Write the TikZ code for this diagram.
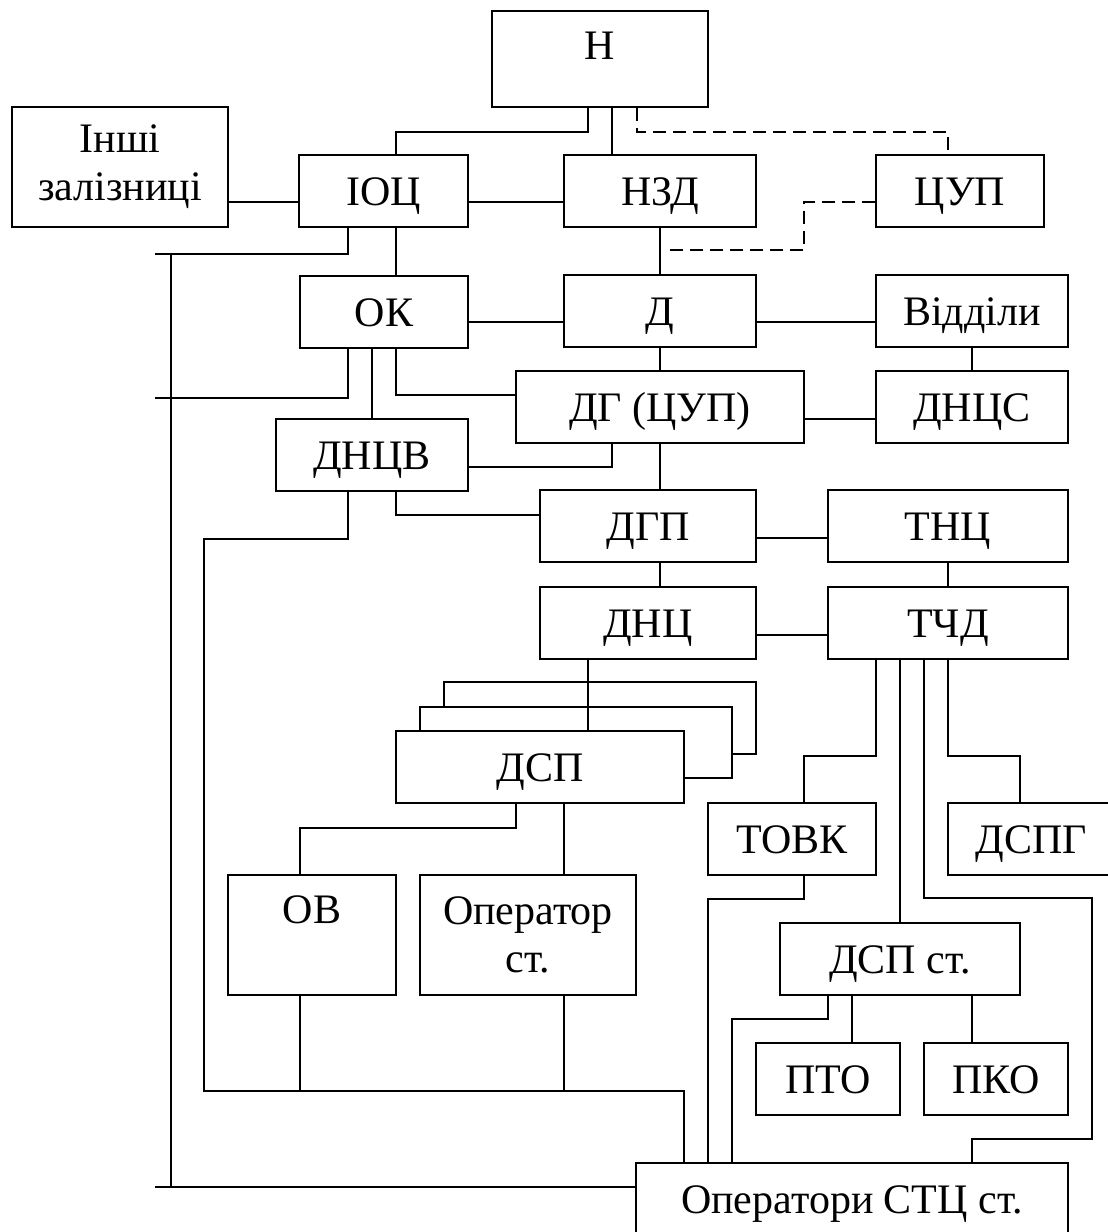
\documentclass[tikz,border=0pt]{standalone}
\usepackage{fontspec}
\setmainfont{Liberation Serif}
\begin{document}
\begin{tikzpicture}[x=1pt,y=-1pt,font=\fontsize{42pt}{48pt}\selectfont,
  box/.style={draw, line width=1.9pt, inner sep=0pt, text height=32pt, text depth=4pt, fill=white},
  mbox/.style={draw, line width=1.9pt, inner sep=0pt, align=center, fill=white},
  ln/.style={line width=1.9pt},
  dln/.style={line width=1.9pt, dash pattern=on 13pt off 7pt}]
\useasboundingbox (0,0) rectangle (1108,1232);
\clip (0,0) rectangle (1108,1232);
% boxes
\node[box, minimum width=216pt, minimum height=96pt, text height=30pt, text depth=30pt] (N) at (600,59) {Н};
\node[mbox, minimum width=216pt, minimum height=120pt] (Inshi) at (120,167) {Інші\\залізниці};
\node[box, minimum width=169pt, minimum height=72pt] (IOC) at (383.5,191) {ІОЦ};
\node[box, minimum width=192pt, minimum height=72pt] (NZD) at (660,191) {НЗД};
\node[box, minimum width=168pt, minimum height=72pt] (CUP) at (960,191) {ЦУП};
\node[box, minimum width=168pt, minimum height=72pt] (OK) at (384,312) {ОК};
\node[box, minimum width=192pt, minimum height=72pt] (D) at (660,311) {Д};
\node[box, minimum width=192pt, minimum height=72pt] (Vid) at (972,311) {Відділи};
\node[box, minimum width=288pt, minimum height=72pt] (DG) at (660,407) {ДГ (ЦУП)};
\node[box, minimum width=192pt, minimum height=72pt] (DNCS) at (972,407) {ДНЦС};
\node[box, minimum width=192pt, minimum height=72pt] (DNCV) at (372,455) {ДНЦВ};
\node[box, minimum width=216pt, minimum height=72pt] (DGP) at (648,526) {ДГП};
\node[box, minimum width=240pt, minimum height=72pt] (TNC) at (948,526) {ТНЦ};
\node[box, minimum width=216pt, minimum height=72pt] (DNC) at (648,623) {ДНЦ};
\node[box, minimum width=240pt, minimum height=72pt] (TCD) at (948,623) {ТЧД};
\draw[ln, fill=white] (444,682) rectangle (756,754);
\draw[ln, fill=white] (420,707) rectangle (732,778);
\node[box, minimum width=288pt, minimum height=72pt] (DSP) at (540,767) {ДСП};
\node[box, minimum width=168pt, minimum height=72pt] (TOVK) at (792,839) {ТОВК};
\node[box, minimum width=166pt, minimum height=72pt] (DSPG) at (1031,839) {ДСПГ};
\node[box, minimum width=168pt, minimum height=120pt, text height=30pt, text depth=54pt] (OB) at (312,935) {ОВ};
\node[mbox, minimum width=216pt, minimum height=120pt] (Oper) at (528,935) {Оператор\\ст.};
\node[box, minimum width=240pt, minimum height=72pt] (DSPst) at (900,959) {ДСП ст.};
\node[box, minimum width=144pt, minimum height=72pt] (PTO) at (828,1079) {ПТО};
\node[box, minimum width=144pt, minimum height=72pt] (PKO) at (996,1079) {ПКО};
\node[box, minimum width=432pt, minimum height=72pt] (OPS) at (852,1199) {Оператори СТЦ ст.};
% free ends and corners
\coordinate (L1) at (155,254);
\coordinate (L2) at (155,398);
\coordinate (L3) at (155,1187);
\coordinate (vtop) at (171,254);
\coordinate (vbot) at (171,1187);
\coordinate (dc) at (804,250);
\coordinate (dend) at (666,250);
\coordinate (c1) at (204,539);
\coordinate (c2) at (204,1091);
\coordinate (r1) at (1092,898);
\coordinate (r2) at (1092,1139);
% connectors
\draw[ln] ([xshift=-12pt]N.south) -- ++(0,24) -| ([xshift=12.5pt]IOC.north);
\draw[ln] ([xshift=12pt]N.south) -- ([xshift=12pt]N.south |- NZD.north);
\draw[dln] ([xshift=37pt]N.south) -- ++(0,24) -| ([xshift=-12pt]CUP.north);
\draw[dln] ([yshift=-11pt]CUP.west) -| (dc) -- (dend);
\draw[ln] ([yshift=-35pt]Inshi.east) -- ([yshift=-11pt]IOC.west);
\draw[ln] ([yshift=-11pt]IOC.east) -- ([yshift=-11pt]NZD.west);
\draw[ln] ([xshift=-35.5pt]IOC.south) |- (L1);
\draw[ln] ([xshift=12.5pt]IOC.south) -- ([xshift=12.5pt]IOC.south |- OK.north);
\draw[ln] (NZD.south) -- (D.north);
\draw[ln] ([yshift=-10pt]OK.east) -- ([yshift=-10pt]OK.east -| D.west);
\draw[ln] ([yshift=-11pt]D.east) -- ([yshift=-11pt]D.east -| Vid.west);
\draw[ln] (D.south) -- (DG.north);
\draw[ln] (Vid.south) -- (DNCS.north);
\draw[ln] ([yshift=-12pt]DG.east) -- ([yshift=-12pt]DG.east -| DNCS.west);
\draw[ln] ([xshift=-36pt]OK.south) |- (L2);
\draw[ln] ([xshift=-12pt]OK.south) -- (DNCV.north);
\draw[ln] ([xshift=12pt]OK.south) |- ([yshift=12pt]DG.west);
\draw[ln] ([yshift=-12pt]DNCV.east) -| ([xshift=-48pt]DG.south);
\draw[ln] (DG.south) -- (DG.south |- DGP.north);
\draw[ln] ([xshift=24pt]DNCV.south) |- ([yshift=11pt]DGP.west);
\draw[ln] ([xshift=-24pt]DNCV.south) |- (c1) -- (c2) -| ([xshift=-168pt]OPS.north);
\draw[ln] ([yshift=-12pt]DGP.east) -- ([yshift=-12pt]DGP.east -| TNC.west);
\draw[ln] ([xshift=12pt]DGP.south) -- ([xshift=12pt]DNC.north);
\draw[ln] (TNC.south) -- (TCD.north);
\draw[ln] ([yshift=-12pt]DNC.east) -- ([yshift=-12pt]DNC.east -| TCD.west);
\draw[ln] ([xshift=-60pt]DNC.south) -- ([xshift=-60pt]DNC.south |- DSP.north);
\draw[ln] ([xshift=-24pt]DSP.south) -- ++(0,24) -| ([xshift=-12pt]OB.north);
\draw[ln] ([xshift=24pt]DSP.south) -- ([xshift=24pt]DSP.south |- Oper.north);
\draw[ln] ([xshift=-12pt]OB.south) -- ([xshift=-12pt]OB.south |- c2);
\draw[ln] ([xshift=36pt]Oper.south) -- ([xshift=36pt]Oper.south |- c2);
\draw[ln] ([xshift=-72pt]TCD.south) -- ++(0,96) -| ([xshift=12pt]TOVK.north);
\draw[ln] ([xshift=-48pt]TCD.south) -- (DSPst.north);
\draw[ln] ([xshift=-24pt]TCD.south) |- (r1) -- (r2) -| ([xshift=120pt]OPS.north);
\draw[ln] (TCD.south) -- ++(0,96) -| ([xshift=-11pt]DSPG.north);
\draw[ln] ([xshift=12pt]TOVK.south) -- ++(0,23) -| ([xshift=-144pt]OPS.north);
\draw[ln] ([xshift=-72pt]DSPst.south) -- ++(0,23) -| ([xshift=-120pt]OPS.north);
\draw[ln] ([xshift=-48pt]DSPst.south) -- ([xshift=-48pt]DSPst.south |- PTO.north);
\draw[ln] ([xshift=72pt]DSPst.south) -- ([xshift=72pt]DSPst.south |- PKO.north);
\draw[ln] (vtop) -- (vbot);
\draw[ln] (L3) -- ([yshift=12pt]OPS.west);
\end{tikzpicture}
\end{document}
